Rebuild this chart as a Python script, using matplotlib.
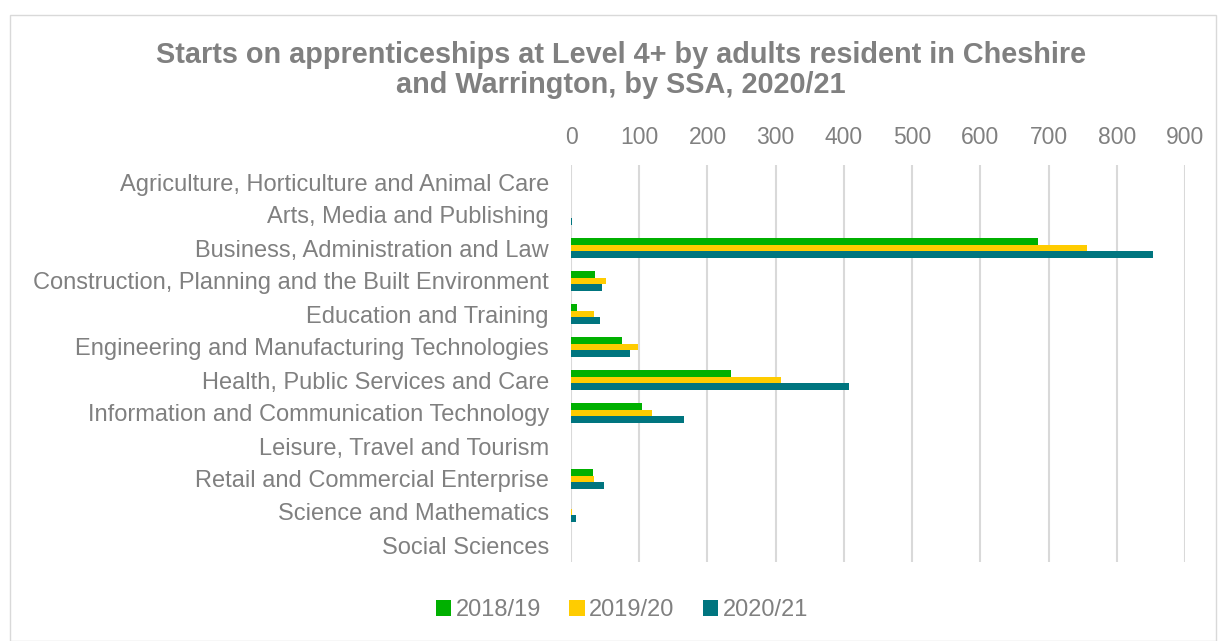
import numpy as np
import matplotlib.pyplot as plt
from matplotlib.patches import Rectangle

# Starts by sector subject area (SSA), three academic years
sectors = [
    "Agriculture, Horticulture and Animal Care",
    "Arts, Media and Publishing",
    "Business, Administration and Law",
    "Construction, Planning and the Built Environment",
    "Education and Training",
    "Engineering and Manufacturing Technologies",
    "Health, Public Services and Care",
    "Information and Communication Technology",
    "Leisure, Travel and Tourism",
    "Retail and Commercial Enterprise",
    "Science and Mathematics",
    "Social Sciences",
]
years = ["2018/19", "2019/20", "2020/21"]
starts_1819 = [0, 0, 685, 35, 9, 75, 234, 104, 0, 32, 0, 0]
starts_1920 = [0, 0, 756, 51, 33, 98, 308, 118, 0, 33, 2, 0]
starts_2021 = [0, 2, 853, 46, 42, 87, 408, 166, 0, 49, 7, 0]

colors = ["#00B000", "#FFCC00", "#00757F"]
grey = "#808080"

plt.rcParams["font.family"] = ["Liberation Sans", "DejaVu Sans"]

fig = plt.figure(figsize=(12.18, 6.41), dpi=100)
fig.patches.append(Rectangle((10 / 1218, 0), 1 - 10 / 1218 - 0.002, 1 - 15 / 641,
                             transform=fig.transFigure, fill=False,
                             edgecolor="#d9d9d9", linewidth=1))

ax = fig.add_axes([571 / 1218, 1 - 561.5 / 641, 614 / 1218, 396 / 641])

y = np.arange(len(sectors))
h = 0.212
for i, (vals, lab) in enumerate(zip([starts_1819, starts_1920, starts_2021], years)):
    ax.barh(y + (i - 1) * h, vals, height=h, color=colors[i], label=lab, zorder=3)

ax.set_xlim(0, 900)
ax.set_ylim(len(sectors) - 0.5, -0.5)
ax.set_xticks(np.arange(0, 901, 100))
ax.xaxis.tick_top()
ax.set_yticks(y)
ax.set_yticklabels(sectors)
ax.tick_params(axis="x", length=0, pad=12, labelsize=16.5, labelcolor=grey)
ax.tick_params(axis="y", length=0, pad=16, labelsize=17, labelcolor=grey)
ax.grid(axis="x", color="#d9d9d9", linewidth=1.5, zorder=0)
ax.set_axisbelow(True)
for s in ax.spines.values():
    s.set_visible(False)

fig.text(621 / 1218, 1 - 70 / 641,
         "Starts on apprenticeships at Level 4+ by adults resident in Cheshire\n"
         "and Warrington, by SSA, 2020/21",
         ha="center", va="center", fontsize=20.8, fontweight="bold",
         color=grey, linespacing=1.08)

handles, labels = ax.get_legend_handles_labels()
fig.legend(handles, labels, loc="center", ncol=3, frameon=False,
           bbox_to_anchor=(622 / 1218, 1 - 610 / 641), fontsize=17,
           labelcolor=grey, handlelength=0.65, handleheight=0.65,
           handletextpad=0.2, columnspacing=1.2)

fig.savefig("out.png", dpi=100)
